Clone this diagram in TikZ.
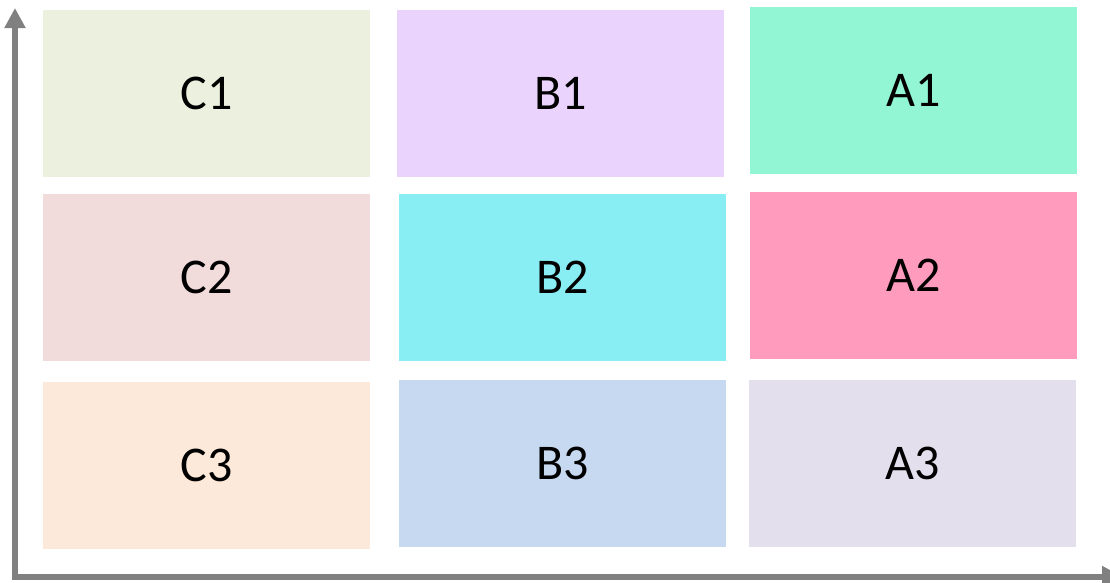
\documentclass[tikz,border=0pt]{standalone}
\usepackage{fontspec}
\setmainfont{Carlito}
\usetikzlibrary{arrows.meta}
\definecolor{cC1}{HTML}{EBF1DE}
\definecolor{cB1}{HTML}{EAD3FC}
\definecolor{cA1}{HTML}{92F6D5}
\definecolor{cC2}{HTML}{F2DCDB}
\definecolor{cB2}{HTML}{89EEF3}
\definecolor{cA2}{HTML}{FF9BBD}
\definecolor{cC3}{HTML}{FDE9D9}
\definecolor{cB3}{HTML}{C6D9F1}
\definecolor{cA3}{HTML}{E4DFEC}
\definecolor{axisgray}{HTML}{808080}
\begin{document}
\begin{tikzpicture}[x=1pt,y=-1pt,
  cell/.style={draw=none,minimum width=327pt,minimum height=167pt,inner sep=0pt,font=\fontsize{50}{56}\selectfont,text=black},
  axisline/.style={draw=axisgray,line width=6pt,-{Triangle[width=20pt,length=20pt]}}]
\useasboundingbox (0,0) rectangle (1110,582);
\node[cell,fill=cC1] (C1) at (206.5,93.5) {C1};
\node[cell,fill=cB1] (B1) at (560.5,93.5) {B1};
\node[cell,fill=cA1] (A1) at (913.5,90.5) {A1};
\node[cell,fill=cC2] (C2) at (206.5,277) {C2};
\node[cell,fill=cB2] (B2) at (562.5,277) {B2};
\node[cell,fill=cA2] (A2) at (913.5,275) {A2};
\node[cell,fill=cC3] (C3) at (206.5,465) {C3};
\node[cell,fill=cB3] (B3) at (562.5,463.5) {B3};
\node[cell,fill=cA3] (A3) at (912.5,463.5) {A3};
\coordinate (origin) at (15,579.5);
\coordinate (ytip) at (15,8);
\coordinate (xstart) at (12,576.5);
\coordinate (xtip) at (1122,576.5);
\draw[axisline] (origin) -- (ytip);
\draw[axisline] (xstart) -- (xtip);
\end{tikzpicture}
\end{document}
